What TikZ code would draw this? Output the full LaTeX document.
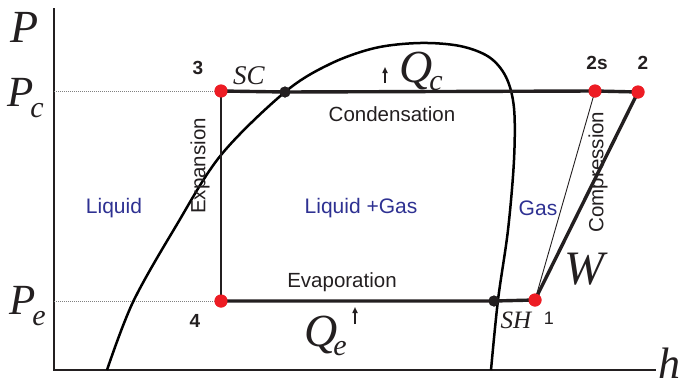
\documentclass[tikz,border=0pt]{standalone}
\usepackage{fontspec}
\setmainfont{Liberation Serif}
\setsansfont{Liberation Sans}
\usetikzlibrary{arrows.meta}
\definecolor{pred}{RGB}{237,28,36}
\definecolor{lblue}{RGB}{46,49,146}
\definecolor{tgray}{RGB}{35,31,32}
\begin{document}
\begin{tikzpicture}[x=1pt,y=-1pt,
  axis/.style={line width=2.6pt,tgray},
  proc/.style={line width=3.4pt,tgray},
  thinproc/.style={line width=0.9pt,tgray},
  guide/.style={line width=1pt,densely dotted,gray},
  dome/.style={line width=2.5pt,black},
  rdot/.style={circle,fill=pred,inner sep=0pt,minimum size=13pt},
  bdot/.style={circle,fill=tgray,inner sep=0pt,minimum size=11pt},
  num/.style={font=\sffamily\bfseries\fontsize{19}{19}\selectfont,tgray,inner sep=0pt},
  proclab/.style={font=\sffamily\fontsize{20.5}{20.5}\selectfont,tgray,inner sep=0pt},
  phase/.style={font=\sffamily\fontsize{21}{21}\selectfont,lblue,inner sep=0pt},
  big/.style={font=\fontsize{46}{46}\selectfont\itshape,tgray,inner sep=0pt},
  mid/.style={font=\fontsize{27}{27}\selectfont\itshape,tgray,inner sep=0pt},
  heat/.style={-{Triangle[length=6pt,width=5pt]},line width=1.5pt,tgray}]
\useasboundingbox (0,0) rectangle (686,386);
% axes
\coordinate (O) at (54,370);
\coordinate (Ptop) at (54,8);
\coordinate (hend) at (656,370);
\draw[axis] (Ptop) -- (O) -- (hend);
% state points
\coordinate (pc0) at (54,91);
\coordinate (pe0) at (54,301);
\node[rdot] (s3) at (221,91) {};
\node[rdot] (s4) at (221,301) {};
\node[rdot] (s1) at (535,300) {};
\node[rdot] (s2s) at (595,91) {};
\node[rdot] (s2) at (638,92) {};
\node[bdot] (sc) at (285,92) {};
\node[bdot] (sh) at (494,301) {};
% guide lines
\draw[guide] (pc0) -- (s3.west);
\draw[guide] (pe0) -- (s4.west);
% dome
\draw[dome] plot[smooth,tension=0.55] coordinates {(107,370) (133,302) (176,226) (221,155) (285,92) (330,64) (375,48) (420,43) (460,46) (489,57) (506,77) (514,108) (514,160) (508,230) (498,300) (491,370)};
% cycle
\draw[proc] (s3.center) -- (sc.center) -- (s2s.center) -- (s2.center);
\draw[line width=2.2pt,tgray] (s3.center) -- (s4.center);
\draw[proc] (s4.center) -- (sh.center) -- (s1.center);
\draw[proc] (s1.center) -- (s2.center);
\draw[thinproc] (s1.center) -- (s2s.center);
% redraw dots on top
\node[rdot] at (s3) {};
\node[rdot] at (s4) {};
\node[rdot] at (s1) {};
\node[rdot] at (s2s) {};
\node[rdot] at (s2) {};
\node[bdot] at (sc) {};
\node[bdot] at (sh) {};
% heat arrows
\coordinate (qc0) at (385,83);
\coordinate (qc1) at (385,67);
\draw[heat] (qc0) -- (qc1);
\coordinate (qe0) at (355,324);
\coordinate (qe1) at (355,307);
\draw[heat] (qe0) -- (qe1);
% axis labels
\node[big,anchor=base west] (lP) at (10,42) {P};
\node[big,font=\fontsize{43}{43}\selectfont\itshape,anchor=base west] (lPc) at (7,106) {P\kern-3pt\raisebox{-11pt}{\fontsize{30}{30}\selectfont c}};
\node[big,font=\fontsize{43}{43}\selectfont\itshape,anchor=base west] (lPe) at (9,314) {P\kern-3pt\raisebox{-11pt}{\fontsize{30}{30}\selectfont e}};
\node[big,font=\fontsize{44}{44}\selectfont\itshape,anchor=base west] (lh) at (658,378) {h};
\node[big,anchor=base west] (lQc) at (399,82) {Q\kern-3pt\raisebox{-8pt}{\fontsize{30}{30}\selectfont c}};
\node[big,anchor=base west] (lQe) at (304,346) {Q\kern-4pt\raisebox{-9pt}{\fontsize{30}{30}\selectfont e}};
\node[big,font=\fontsize{48}{48}\selectfont\itshape,anchor=base west] (lW) at (564,284) {W};
% numbers
\node[num] (n3) at (198,68) {3};
\node[num] (n2s) at (597,63) {2s};
\node[num] (n2) at (643,63) {2};
\node[num] (n4) at (195,321) {4};
\node[num,font=\sffamily\fontsize{18}{18}\selectfont] (n1) at (549,318) {1};
\node[mid] (lSC) at (249,76) {SC};
\node[mid,font=\fontsize{25}{25}\selectfont\itshape] (lSH) at (516,320) {SH};
% process labels
\node[proclab] (cond) at (392,114) {Condensation};
\node[proclab] (evap) at (342,282) {Evaporation};
\node[proclab,rotate=90] (exp) at (200,166) {Expansion};
\node[proclab,rotate=90] (comp) at (598,172) {Compression};
% phase labels
\node[phase] (liq) at (114,208) {Liquid};
\node[phase] (lg) at (361,208) {Liquid +Gas};
\node[phase] (gas) at (538,208) {Gas};
\end{tikzpicture}
\end{document}
